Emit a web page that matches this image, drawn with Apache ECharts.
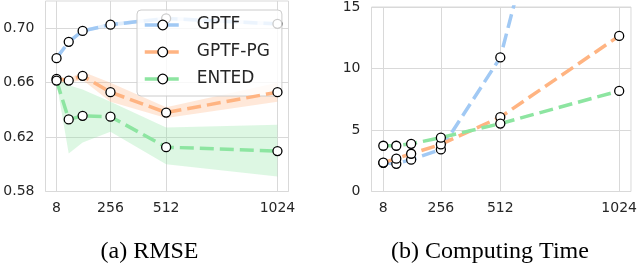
<!DOCTYPE html>
<html><head><meta charset="utf-8">
<script src="https://cdn.jsdelivr.net/npm/echarts@6/dist/echarts.min.js"></script>
<style>html,body{margin:0;padding:0;background:#fff}#c{width:640px;height:267px}</style>
</head><body><div id="c"></div>
<script>
// ---- data ----
const xValues = [8, 64, 128, 256, 512, 1024];
const xTickValues = [8, 256, 512, 1024];
const rmseTicks = [0.58, 0.62, 0.66, 0.70];
const timeTicks = [0, 5, 10, 15];
const seriesNames = ['GPTF', 'GPTF-PG', 'ENTED'];

const rmseGPTF    = [0.678, 0.690, 0.698, 0.7026, 0.7072, 0.7032];
const rmseGPTFlo  = [0.676, 0.6888, 0.6968, 0.7012, 0.7058, 0.7018];
const rmseGPTFhi  = [0.680, 0.6912, 0.6992, 0.704, 0.7086, 0.7046];

const rmsePG      = [0.6628, 0.6615, 0.665, 0.653, 0.638, 0.653];
const rmsePGlo    = [0.661, 0.660, 0.662, 0.646, 0.634, 0.646];
const rmsePGhi    = [0.6645, 0.663, 0.668, 0.660, 0.642, 0.660];

const rmseENTED   = [0.6615, 0.633, 0.6356, 0.635, 0.6126, 0.6097];
const rmseENTEDlo = [0.660, 0.608, 0.616, 0.624, 0.600, 0.591];
const rmseENTEDhi = [0.663, 0.658, 0.655, 0.646, 0.627, 0.629];

const timeGPTF  = [2.33, 2.25, 2.59, 3.42, 10.9, 48];
const timePG    = [2.35, 2.67, 3.07, 3.83, 6.05, 12.65];
const timeENTED = [3.72, 3.72, 3.88, 4.38, 5.52, 8.18];

// ---- style ----
const colors = ['#a1c9f4', '#ffb482', '#8de5a1'];
const bandColors = ['rgba(161,201,244,0.3)', 'rgba(255,180,130,0.3)', 'rgba(141,229,161,0.3)'];
const gridColor = '#d9d9d9';
const textColor = '#262626';

function pairs(ys) { return xValues.map((x, i) => [x, ys[i]]); }

function lineSeries(name, ys, idx, axis) {
  return {
    name: name, type: 'line', xAxisIndex: axis, yAxisIndex: axis,
    data: pairs(ys), symbol: 'circle', symbolSize: 9, showAllSymbol: true,
    z: 3 + idx,
    lineStyle: { color: colors[idx], width: 3.5, type: [14, 6] },
    itemStyle: { color: '#ffffff', borderColor: '#000000', borderWidth: 1.3 },
    emphasis: { disabled: true }, clip: true
  };
}

function bandSeries(lo, hi, idx, axis) {
  return {
    type: 'custom', xAxisIndex: axis, yAxisIndex: axis, silent: true, z: 2,
    data: [[xValues[0], lo[0]]], encode: { x: 0, y: 1 }, clip: true,
    renderItem: function (params, api) {
      const pts = [];
      for (let i = 0; i < xValues.length; i++) pts.push(api.coord([xValues[i], hi[i]]));
      for (let i = xValues.length - 1; i >= 0; i--) pts.push(api.coord([xValues[i], lo[i]]));
      return { type: 'polygon', shape: { points: pts }, style: { fill: bandColors[idx], stroke: null } };
    }
  };
}

function xAxis(gridIndex) {
  return {
    type: 'value', gridIndex: gridIndex, min: -42.8, max: 1074.8,
    axisLine: { show: false }, 
    axisTick: { show: false, customValues: xTickValues },
    axisLabel: { customValues: xTickValues, color: textColor, fontSize: 14, fontFamily: 'DejaVu Sans', margin: 10, formatter: v => String(Math.round(v)) },
    splitLine: { show: true, lineStyle: { color: gridColor, width: 1 } }
  };
}

function yAxis(gridIndex, min, max, ticks, fmt) {
  return {
    type: 'value', gridIndex: gridIndex, min: min, max: max,
    axisLine: { show: false },
    axisTick: { show: false, customValues: ticks },
    axisLabel: { customValues: ticks, color: textColor, fontSize: 14, fontFamily: 'DejaVu Sans', margin: 11, formatter: fmt },
    splitLine: { show: true, lineStyle: { color: gridColor, width: 1 } }
  };
}

const chart = echarts.init(document.getElementById('c'), null, { renderer: 'canvas' });
chart.setOption({
  animation: false,
  backgroundColor: '#ffffff',
  grid: [
    { left: 45.5, top: 1, width: 243, height: 190.5, show: true, borderColor: gridColor, borderWidth: 1, backgroundColor: 'transparent' },
    { left: 371.5, top: 6, width: 260, height: 185.5, show: true, borderColor: gridColor, borderWidth: 1, backgroundColor: 'transparent' }
  ],
  xAxis: [xAxis(0), xAxis(1)],
  yAxis: [
    yAxis(0, 0.58, 0.72, rmseTicks, v => v.toFixed(2)),
    yAxis(1, 0, 15, timeTicks, v => String(Math.round(v)))
  ],
  legend: {
    data: seriesNames, left: 137, top: 10, orient: 'vertical',
    itemWidth: 36, itemHeight: 12, itemGap: 9,
    padding: [6, 12, 8, 6],
    backgroundColor: 'rgba(255,255,255,0.8)', borderColor: '#cccccc', borderWidth: 1, borderRadius: 4,
    itemStyle: { color: '#ffffff', borderColor: '#000000', borderWidth: 1.3 },
    lineStyle: { width: 3.5 },
    textStyle: { color: textColor, fontSize: 17, fontFamily: 'DejaVu Sans', lineHeight: 18, padding: [0, 0, 0, 11] },
    selectedMode: false
  },
  graphic: [
    { type: 'text', x: 149.5, y: 252, style: { text: '(a) RMSE', font: '24px "Liberation Serif"', fill: '#000', align: 'center', verticalAlign: 'middle' } },
    { type: 'text', x: 490, y: 252, style: { text: '(b) Computing Time', font: '24px "Liberation Serif"', fill: '#000', align: 'center', verticalAlign: 'middle' } }
  ],
  series: [
    lineSeries('GPTF', rmseGPTF, 0, 0),
    bandSeries(rmseGPTFlo, rmseGPTFhi, 0, 0),
    lineSeries('GPTF-PG', rmsePG, 1, 0),
    bandSeries(rmsePGlo, rmsePGhi, 1, 0),
    lineSeries('ENTED', rmseENTED, 2, 0),
    bandSeries(rmseENTEDlo, rmseENTEDhi, 2, 0),
    lineSeries('GPTF', timeGPTF, 0, 1),
    lineSeries('GPTF-PG', timePG, 1, 1),
    lineSeries('ENTED', timeENTED, 2, 1)
  ]
});
</script></body></html>
